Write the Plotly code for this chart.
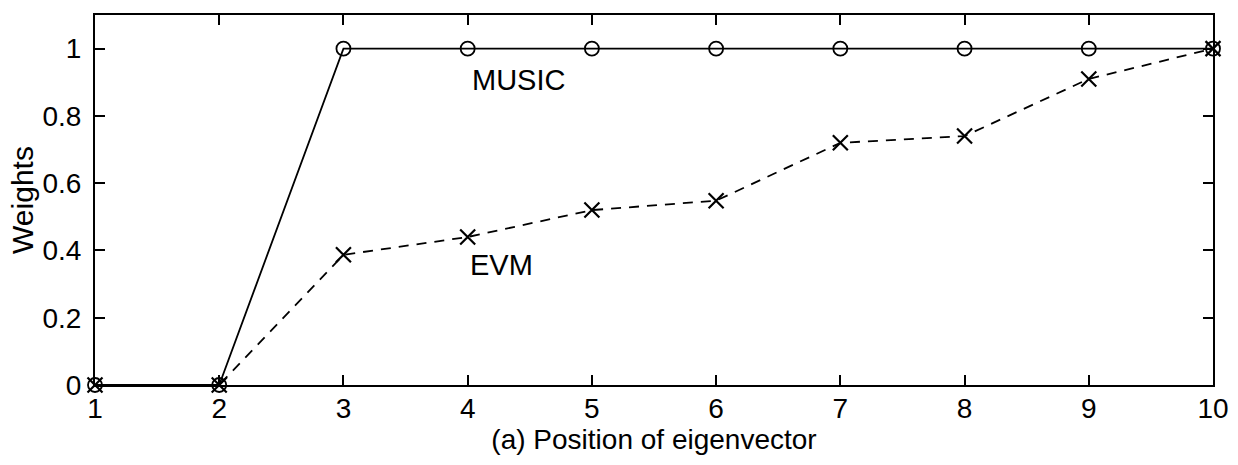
import plotly.graph_objects as go

# Eigenvector positions and the weights each estimator assigns to them
positions = [1, 2, 3, 4, 5, 6, 7, 8, 9, 10]
music_weights = [0, 0, 1.0, 1.0, 1.0, 1.0, 1.0, 1.0, 1.0, 1.0]
evm_weights = [0, 0, 0.387, 0.44, 0.52, 0.548, 0.72, 0.74, 0.91, 1.0]

x_ticks = [1, 2, 3, 4, 5, 6, 7, 8, 9, 10]
y_ticks = [0, 0.2, 0.4, 0.6, 0.8, 1]
y_tick_text = ["0", "0.2", "0.4", "0.6", "0.8", "1"]

FONT = "Liberation Sans, Arial, Helvetica, sans-serif"

fig = go.Figure()

fig.add_trace(go.Scatter(
    x=positions, y=music_weights, mode="lines+markers", name="MUSIC",
    line=dict(color="black", width=1.8),
    marker=dict(symbol="circle-open", size=14, color="black",
                line=dict(width=1.8, color="black")),
    cliponaxis=False, showlegend=False,
))

fig.add_trace(go.Scatter(
    x=positions, y=evm_weights, mode="lines+markers", name="EVM",
    line=dict(color="black", width=1.8, dash="10px,8px"),
    marker=dict(symbol="x-thin-open", size=15, color="black",
                line=dict(width=2.2, color="black")),
    cliponaxis=False, showlegend=False,
))

fig.add_annotation(x=4.41, y=0.906, text="MUSIC", showarrow=False,
                   font=dict(family=FONT, size=29, color="black"))
fig.add_annotation(x=4.27, y=0.358, text="EVM", showarrow=False,
                   font=dict(family=FONT, size=29, color="black"))

axis_common = dict(
    showgrid=False, zeroline=False, showline=True, linecolor="black",
    linewidth=2, mirror="ticks", ticks="inside", ticklen=10, tickwidth=1.5,
    tickcolor="black", tickfont=dict(family=FONT, size=28, color="black"),
)

fig.update_xaxes(
    range=[1, 10], tickmode="array", tickvals=x_ticks,
    title=dict(text="(a) Position of eigenvector", standoff=0,
               font=dict(family=FONT, size=28, color="black")),
    ticklabelstandoff=-3,
    **axis_common,
)
fig.update_yaxes(
    range=[0, 1.1], tickmode="array", tickvals=y_ticks, ticktext=y_tick_text,
    title=dict(text="Weights", standoff=0,
               font=dict(family=FONT, size=30, color="black")),
    ticklabelstandoff=6,
    **axis_common,
)

fig.update_layout(
    width=1238, height=465,
    margin=dict(l=95, r=25, t=15, b=80, autoexpand=False),
    paper_bgcolor="white", plot_bgcolor="white",
)

fig.write_html("out.html")
